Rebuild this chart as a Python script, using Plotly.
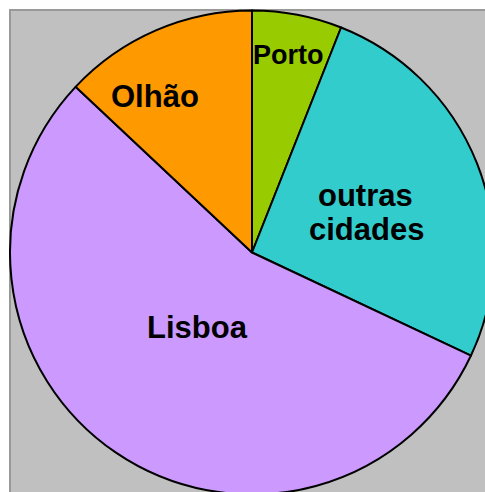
import plotly.graph_objects as go

categories = ["Porto", "outras cidades", "Lisboa", "Olhão"]
values = [6, 26, 55, 13]
colors = ["#99CC00", "#33CCCC", "#CC99FF", "#FF9900"]

W, H = 494, 495
ML, MT = 10, 10

def px2paper(x, y):
    return (x - ML) / (W - ML), 1 - (y - MT) / (H - MT)

# label anchor points (pixel positions in the page), one entry per text line
label_lines = [
    ("Porto", 288, 55),
    ("outras", 365, 196),
    ("cidades", 366, 230),
    ("Lisboa", 197, 327),
    ("Olhão", 155, 96),
]

fig = go.Figure(go.Pie(
    labels=categories,
    values=values,
    sort=False,
    direction="clockwise",
    rotation=0,
    marker=dict(colors=colors, line=dict(color="black", width=2)),
    textinfo="none",
    hoverinfo="skip",
    showlegend=False,
    domain=dict(x=[0, 1], y=[0, 1]),
))

annotations = []
for txt, x, y in label_lines:
    ax, ay = px2paper(x, y)
    annotations.append(dict(
        text="<b>%s</b>" % txt, x=ax, y=ay, xref="paper", yref="paper",
        showarrow=False, xanchor="center", yanchor="middle",
        font=dict(family="Liberation Sans, Arial, sans-serif", size=31 if txt != "Porto" else 27, color="black"),
    ))

fig.update_layout(
    width=W, height=H,
    margin=dict(l=ML, t=MT, r=0, b=0),
    paper_bgcolor="white",
    shapes=[dict(type="rect", xref="paper", yref="paper", x0=0, y0=-0.05, x1=1.05, y1=1,
                 fillcolor="#C0C0C0", line=dict(color="#999999", width=2), layer="below")],
    annotations=annotations,
)

fig.write_html(
    "out.html",
    config={"displayModeBar": False, "staticPlot": True},
    post_script="document.body.style.margin='0';document.body.style.overflow='hidden';document.documentElement.style.overflow='hidden';",
)
